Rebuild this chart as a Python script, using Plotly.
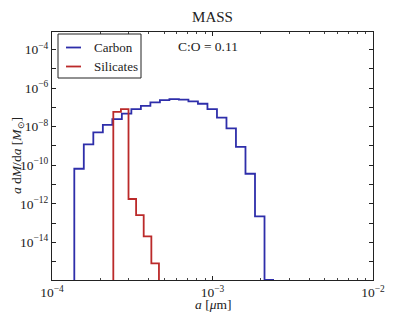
import plotly.graph_objects as go

# Carbon bin edges (um) and values (M_sun)
carbon_edges = [1.377e-4, 1.578e-4, 1.809e-4, 2.074e-4, 2.377e-4, 2.724e-4, 3.122e-4,
                3.579e-4, 4.102e-4, 4.702e-4, 5.389e-4, 6.177e-4, 7.079e-4, 8.115e-4,
                9.301e-4, 1.066e-3, 1.222e-3, 1.400e-3, 1.605e-3, 1.840e-3, 2.109e-3, 2.417e-3]
carbon_vals = [10**-10.18, 10**-8.92, 10**-8.30, 10**-7.91, 10**-7.61, 10**-7.32, 10**-7.09,
               10**-6.92, 10**-6.74, 10**-6.62, 10**-6.57, 10**-6.60, 10**-6.69, 10**-6.81,
               10**-7.09, 10**-7.53, 10**-8.09, 10**-9.05, 10**-10.44, 10**-12.65, 1.15e-16]

sil_edges = [2.410e-4, 2.688e-4, 2.997e-4, 3.342e-4, 3.727e-4, 4.159e-4, 4.638e-4, 5.172e-4]
sil_vals = [10**-7.23, 10**-7.09, 10**-11.75, 10**-12.59, 10**-13.69, 10**-15.09, 1e-30]

floor = 1e-30
xticks = [1e-4, 1e-3, 1e-2]
xtick_text = ["10<sup>−4</sup>", "10<sup>−3</sup>", "10<sup>−2</sup>"]
ytick_vals = [10.0**e for e in range(-15, -3)]
ytick_text = ["10<sup>%s</sup>" % str(e).replace("-", "−") if e % 2 == 0 else "" for e in range(-15, -3)]

BLUE = "#2e2eaa"
RED = "#bb2a2a"
FONT = "Liberation Serif"
TXT = "#222"

# page body has an 8px margin: the figure starts at window pixel (8, 8)
W, H = 407, 304
OFF = 8


def step(edges, vals):
    xs = [edges[0]] + list(edges)
    ys = [floor] + list(vals) + [vals[-1]]
    return xs, ys


fig = go.Figure()
cx, cy = step(carbon_edges, carbon_vals)
sx, sy = step(sil_edges, sil_vals)
fig.add_trace(go.Scatter(x=cx, y=cy, mode="lines", line=dict(color=BLUE, width=1.8, shape="hv"),
                         name="Carbon", showlegend=False))
fig.add_trace(go.Scatter(x=sx, y=sy, mode="lines", line=dict(color=RED, width=1.8, shape="hv"),
                         name="Silicates", showlegend=False))

axis_common = dict(showline=True, linecolor=TXT, linewidth=1, mirror="allticks",
                   ticks="inside", showgrid=False, zeroline=False, tickcolor=TXT, automargin=False,
                   tickfont=dict(family=FONT, size=13.5, color=TXT))

fig.update_xaxes(type="log", range=[-4, -2], tickvals=xticks, ticktext=xtick_text, ticklen=4,
                 minor=dict(ticks="inside", ticklen=2, tickcolor="#444", dtick="D1", showgrid=False),
                 **axis_common)
fig.update_yaxes(type="log", range=[-15.95, -3.09], tickvals=ytick_vals, ticktext=ytick_text, ticklen=4,
                 **axis_common)

# plot area in window pixels
PX0, PX1, PY0, PY1 = 52, 373, 32, 280
PW, PH = PX1 - PX0, PY1 - PY0


def px(x):
    return (x - PX0) / PW


def py(y):
    return (PY1 - y) / PH


shapes = [
    dict(type="rect", xref="paper", yref="paper", x0=px(58), x1=px(141), y0=py(78), y1=py(34),
         line=dict(color=TXT, width=1), fillcolor="white"),
    dict(type="line", xref="paper", yref="paper", x0=px(66), x1=px(81), y0=py(47.5), y1=py(47.5),
         line=dict(color=BLUE, width=1.8)),
    dict(type="line", xref="paper", yref="paper", x0=px(66), x1=px(81), y0=py(66.5), y1=py(66.5),
         line=dict(color=RED, width=1.8)),
]
annotations = [
    dict(text="Carbon", xref="paper", yref="paper", x=px(92), y=py(47.5),
         xanchor="left", yanchor="middle", showarrow=False, font=dict(family=FONT, size=13, color=TXT)),
    dict(text="Silicates", xref="paper", yref="paper", x=px(92), y=py(66.5),
         xanchor="left", yanchor="middle", showarrow=False, font=dict(family=FONT, size=13, color=TXT)),
    dict(text="C:O = 0.11", xref="paper", yref="paper", x=px(208), y=py(46.5),
         xanchor="center", yanchor="middle", showarrow=False, font=dict(family=FONT, size=13.5, color=TXT)),
    dict(text="<i>a</i> [<i>μ</i>m]", xref="paper", yref="paper", x=px(212.5), y=py(304),
         xanchor="center", yanchor="middle", showarrow=False, font=dict(family=FONT, size=13.5, color=TXT)),
    dict(text="<i>a</i> d<i>M</i>/d<i>a</i> [<i>M</i><sub>⊙</sub>]", xref="paper", yref="paper",
         x=px(17), y=py(156), textangle=-90,
         xanchor="center", yanchor="middle", showarrow=False, font=dict(family=FONT, size=13.5, color=TXT)),
]

fig.update_layout(
    width=W, height=H,
    margin=dict(l=PX0 - OFF, r=W - (PX1 - OFF), t=PY0 - OFF, b=H - (PY1 - OFF), pad=0),
    paper_bgcolor="white", plot_bgcolor="white",
    title=dict(text="MASS", x=(212.5 - OFF) / W, xanchor="center", y=1 - (17 - OFF) / H, yanchor="middle",
               font=dict(family=FONT, size=15, color=TXT)),
    shapes=shapes, annotations=annotations, showlegend=False,
)

fig.write_html("out.html")
